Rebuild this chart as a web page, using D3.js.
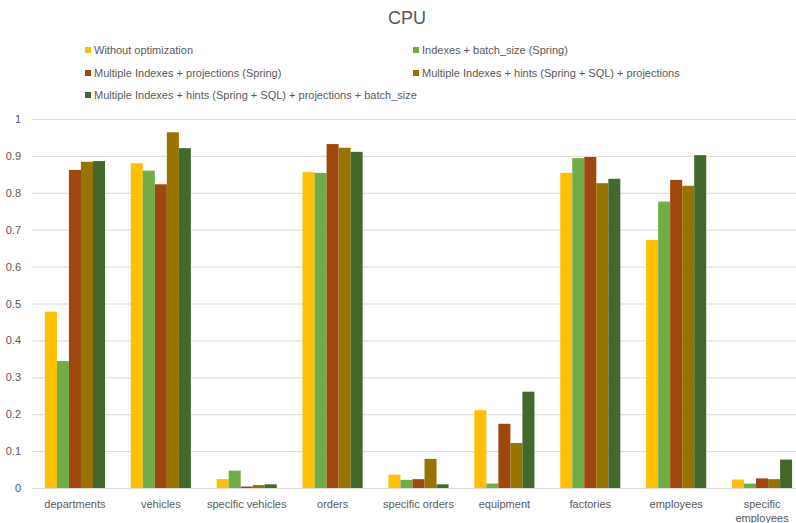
<!DOCTYPE html>
<html>
<head>
<meta charset="utf-8">
<script src="https://cdn.jsdelivr.net/npm/d3@7"></script>
<style>
  html, body { margin: 0; padding: 0; background: #fff; }
  svg { display: block; font-family: "Liberation Sans", Arial, sans-serif; }
</style>
</head>
<body>
<svg id="chart" width="796" height="523"></svg>
<script>
const title = "CPU";
const categories = ["departments", "vehicles", "specific vehicles", "orders", "specific orders", "equipment", "factories", "employees", "specific employees"];
const seriesNames = [
  "Without optimization",
  "Indexes + batch_size (Spring)",
  "Multiple Indexes + projections (Spring)",
  "Multiple Indexes + hints (Spring + SQL) + projections",
  "Multiple Indexes + hints (Spring + SQL) + projections + batch_size"
];
const withoutOptimization = [0.478, 0.880, 0.024, 0.856, 0.036, 0.211, 0.854, 0.672, 0.023];
const indexesBatch        = [0.344, 0.860, 0.047, 0.854, 0.022, 0.012, 0.894, 0.776, 0.012];
const multiProjections    = [0.862, 0.823, 0.004, 0.932, 0.024, 0.174, 0.897, 0.835, 0.026];
const multiHintsProj      = [0.884, 0.964, 0.008, 0.922, 0.079, 0.122, 0.826, 0.819, 0.024];
const multiHintsProjBatch = [0.886, 0.921, 0.010, 0.911, 0.010, 0.261, 0.838, 0.902, 0.077];
const seriesValues = [withoutOptimization, indexesBatch, multiProjections, multiHintsProj, multiHintsProjBatch];
const colors = ["#FFC000", "#70AD47", "#9E480E", "#997300", "#43682B"];
const yTicks = [0, 0.1, 0.2, 0.3, 0.4, 0.5, 0.6, 0.7, 0.8, 0.9, 1];

const svg = d3.select("#chart");
const textColor = "#595959";

const plot = { left: 32, right: 805, top: 119, bottom: 488 };

const x0 = d3.scaleBand().domain(categories).range([plot.left, plot.right]).paddingInner(0.3).paddingOuter(0.15);
const x1 = d3.scaleBand().domain(d3.range(seriesNames.length)).range([0, x0.bandwidth()]);
const y = d3.scaleLinear().domain([0, 1]).range([plot.bottom, plot.top]);

// Title
svg.append("text")
  .attr("x", 407).attr("y", 24)
  .attr("text-anchor", "middle")
  .attr("fill", textColor)
  .style("font-size", "18px")
  .text(title);

// Legend
const legendPos = [[85, 50], [413, 50], [85, 73], [413, 73], [85, 95]];
const lg = svg.append("g");
seriesNames.forEach((name, i) => {
  const [lx, ly] = legendPos[i];
  lg.append("rect").attr("x", lx).attr("y", ly - 3).attr("width", 6).attr("height", 6).attr("fill", colors[i]);
  lg.append("text").attr("x", lx + 9).attr("y", ly + 4)
    .attr("fill", textColor).style("font-size", "11px").text(name);
});

// Gridlines and y labels
const yAxis = d3.axisLeft(y).tickValues(yTicks).tickSize(-(plot.right - plot.left)).tickFormat(d3.format("~g")).tickPadding(11);
const yg = svg.append("g").attr("transform", `translate(${plot.left},0)`).call(yAxis);
yg.select(".domain").remove();
yg.selectAll(".tick line").attr("stroke", "#d9d9d9").attr("stroke-width", 1);
yg.selectAll(".tick text").attr("fill", textColor).style("font-size", "11px").style("font-family", "Liberation Sans, Arial, sans-serif");

// Bars
const groups = svg.append("g").selectAll("g").data(categories).join("g")
  .attr("transform", d => `translate(${x0(d)},0)`);
groups.selectAll("rect")
  .data((c, ci) => seriesValues.map((vals, si) => ({ si, v: vals[ci] })))
  .join("rect")
  .attr("x", d => x1(d.si))
  .attr("y", d => y(d.v))
  .attr("width", x1.bandwidth())
  .attr("height", d => y(0) - y(d.v))
  .attr("fill", d => colors[d.si]);

// Baseline
svg.append("line").attr("x1", plot.left).attr("x2", plot.right)
  .attr("y1", y(0) + 0.5).attr("y2", y(0) + 0.5).attr("stroke", "#d9d9d9");

// X axis labels
const xAxis = d3.axisBottom(x0).tickSize(0).tickPadding(0);
const xg = svg.append("g").attr("transform", `translate(0,${plot.bottom})`).call(xAxis);
xg.select(".domain").remove();
xg.selectAll(".tick text").attr("fill", textColor).style("font-size", "11px")
  .style("font-family", "Liberation Sans, Arial, sans-serif")
  .attr("y", 20).attr("dy", 0)
  .each(function(d) {
    const t = d3.select(this);
    const w = this.getComputedTextLength();
    if (w > x0.step()) {
      const words = d.split(" ");
      t.text(null);
      words.forEach((wd, i) => {
        t.append("tspan").attr("x", 0).attr("y", 20 + i * 14).text(wd);
      });
    }
  });
</script>
</body>
</html>
